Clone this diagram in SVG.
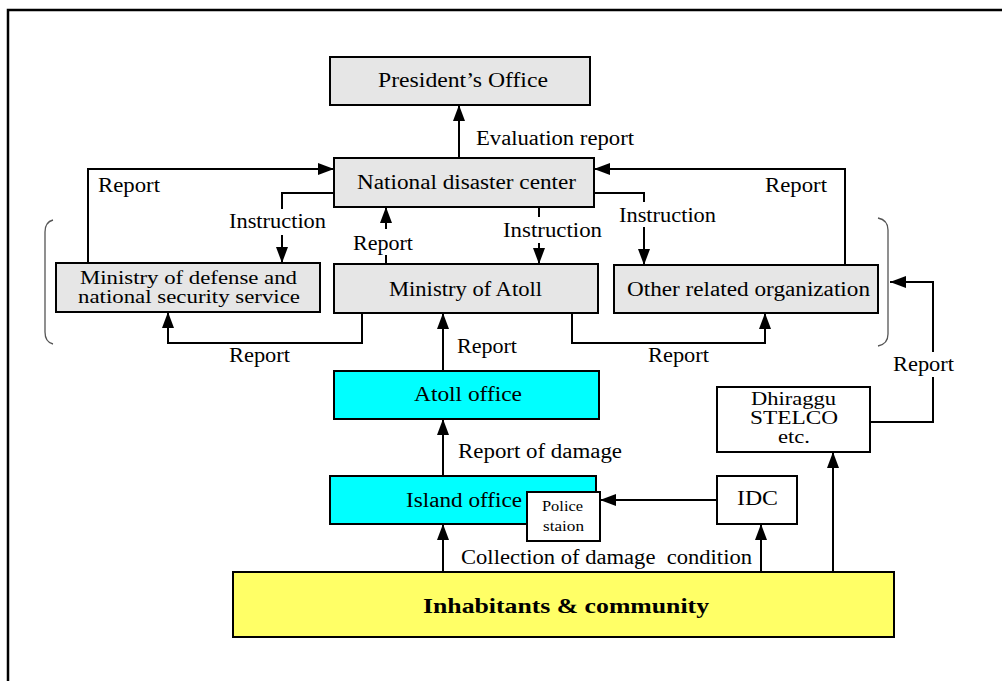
<svg xmlns="http://www.w3.org/2000/svg" width="1002" height="681" viewBox="0 0 1002 681" font-family="Liberation Serif, Times New Roman, serif">
<defs>
<marker id="arr" viewBox="0 0 16 12" refX="16" refY="6" markerWidth="16" markerHeight="12" markerUnits="userSpaceOnUse" orient="auto"><path d="M0,0 L16,6 L0,12 z" fill="#000"/></marker>
</defs>
<style>
.box{stroke:#000;stroke-width:2}
.gray{fill:#e6e6e6}
.cyan{fill:#00ffff}
.white{fill:#fff}
.yellow{fill:#ffff66}
text{font-family:'Liberation Serif','Times New Roman',Times,serif;font-size:20px;fill:#000}
.two{font-size:18px}
.sm{font-size:14px}
.bold{font-weight:bold;font-size:22px}
.ln{fill:none;stroke:#000;stroke-width:2}
.br{fill:none;stroke:#555;stroke-width:1.3}
</style>
<rect width="1002" height="681" fill="#fff"/>
<rect x="8" y="10" width="1010" height="700" fill="none" stroke="#000" stroke-width="2.5"/>

<g id="connectors">
<line class="ln" x1="459" y1="157" x2="459" y2="105" marker-end="url(#arr)"/>
<polyline class="ln" points="88,263 88,169 334,169" marker-end="url(#arr)"/>
<polyline class="ln" points="334,193 282,193 282,209"/>
<line class="ln" x1="282" y1="235" x2="282" y2="263" marker-end="url(#arr)"/>
<line class="ln" x1="386" y1="264" x2="386" y2="255"/>
<line class="ln" x1="386" y1="229" x2="386" y2="207" marker-end="url(#arr)"/>
<line class="ln" x1="539" y1="207" x2="539" y2="217"/>
<line class="ln" x1="539" y1="243" x2="539" y2="264" marker-end="url(#arr)"/>
<polyline class="ln" points="594,193 644,193 644,202"/>
<line class="ln" x1="644" y1="227" x2="644" y2="265" marker-end="url(#arr)"/>
<polyline class="ln" points="845,265 845,169 594,169" marker-end="url(#arr)"/>
<polyline class="ln" points="362,313 362,343 168,343 168,312" marker-end="url(#arr)"/>
<polyline class="ln" points="572,313 572,343 765,343 765,313" marker-end="url(#arr)"/>
<line class="ln" x1="443" y1="371" x2="443" y2="313" marker-end="url(#arr)"/>
<line class="ln" x1="443" y1="476" x2="443" y2="419" marker-end="url(#arr)"/>
<line class="ln" x1="443" y1="572" x2="443" y2="524" marker-end="url(#arr)"/>
<line class="ln" x1="761" y1="572" x2="761" y2="524" marker-end="url(#arr)"/>
<line class="ln" x1="833" y1="572" x2="833" y2="452" marker-end="url(#arr)"/>
<line class="ln" x1="717" y1="500" x2="600" y2="500" marker-end="url(#arr)"/>
<polyline class="ln" points="870,422 933,422 933,377"/>
<polyline class="ln" points="933,352 933,282 890,282" marker-end="url(#arr)"/>
<path class="br" d="M53,220 Q45,222 45,232 L45,332 Q45,342 53,344"/>
<path class="br" d="M878,218 Q888,220 888,230 L888,334 Q888,344 878,346"/>
<text x="476" y="145" textLength="158" lengthAdjust="spacingAndGlyphs">Evaluation report</text>
<text x="98" y="192" textLength="62" lengthAdjust="spacingAndGlyphs">Report</text>
<text x="229" y="228" textLength="97" lengthAdjust="spacingAndGlyphs">Instruction</text>
<text x="353" y="250" textLength="60" lengthAdjust="spacingAndGlyphs">Report</text>
<text x="503" y="237" textLength="99" lengthAdjust="spacingAndGlyphs">Instruction</text>
<text x="619" y="222" textLength="97" lengthAdjust="spacingAndGlyphs">Instruction</text>
<text x="765" y="192" textLength="62" lengthAdjust="spacingAndGlyphs">Report</text>
<text x="229" y="362" textLength="61" lengthAdjust="spacingAndGlyphs">Report</text>
<text x="648" y="362" textLength="61" lengthAdjust="spacingAndGlyphs">Report</text>
<text x="457" y="353" textLength="60" lengthAdjust="spacingAndGlyphs">Report</text>
<text x="458" y="458" textLength="164" lengthAdjust="spacingAndGlyphs">Report of damage</text>
<text x="461" y="564" textLength="291" lengthAdjust="spacingAndGlyphs" xml:space="preserve">Collection of damage  condition</text>
<text x="893" y="371" textLength="61" lengthAdjust="spacingAndGlyphs">Report</text>
</g>

<g id="presidents-office">
<rect class="box gray" x="330" y="57" width="260" height="48"/>
<text x="378" y="87" textLength="170" lengthAdjust="spacingAndGlyphs">President’s Office</text>
</g>
<g id="national-disaster-center">
<rect class="box gray" x="334" y="158" width="260" height="49"/>
<text x="357" y="189" textLength="219" lengthAdjust="spacingAndGlyphs">National disaster center</text>
</g>
<g id="ministry-defense">
<rect class="box gray" x="56" y="263" width="264" height="49"/>
<text class="two" x="80" y="284" textLength="217" lengthAdjust="spacingAndGlyphs">Ministry of defense and</text>
<text class="two" x="78" y="303" textLength="222" lengthAdjust="spacingAndGlyphs">national security service</text>
</g>
<g id="ministry-atoll">
<rect class="box gray" x="334" y="264" width="264" height="49"/>
<text x="389" y="296" textLength="153" lengthAdjust="spacingAndGlyphs">Ministry of Atoll</text>
</g>
<g id="other-related">
<rect class="box gray" x="614" y="265" width="264" height="48"/>
<text x="627" y="296" textLength="243" lengthAdjust="spacingAndGlyphs">Other related organization</text>
</g>
<g id="atoll-office">
<rect class="box cyan" x="334" y="371" width="265" height="48"/>
<text x="414" y="401" textLength="108" lengthAdjust="spacingAndGlyphs">Atoll office</text>
</g>
<g id="island-office">
<rect class="box cyan" x="330" y="476" width="266" height="48"/>
<text x="406" y="507" textLength="116" lengthAdjust="spacingAndGlyphs">Island office</text>
</g>
<g id="police-station">
<rect class="box white" x="527" y="492" width="73" height="49"/>
<text class="sm" x="542" y="511" textLength="41" lengthAdjust="spacingAndGlyphs">Police</text>
<text class="sm" x="543" y="531" textLength="41" lengthAdjust="spacingAndGlyphs">staion</text>
</g>
<g id="idc">
<rect class="box white" x="717" y="476" width="80" height="48"/>
<text x="737" y="505" textLength="41" lengthAdjust="spacingAndGlyphs">IDC</text>
</g>
<g id="dhiraggu">
<rect class="box white" x="717" y="387" width="153" height="65"/>
<text class="two" x="751" y="405" textLength="85" lengthAdjust="spacingAndGlyphs">Dhiraggu</text>
<text class="two" x="750" y="424" textLength="88" lengthAdjust="spacingAndGlyphs">STELCO</text>
<text class="two" x="778" y="443" textLength="32" lengthAdjust="spacingAndGlyphs">etc.</text>
</g>
<g id="inhabitants">
<rect class="box yellow" x="233" y="572" width="661" height="65"/>
<text class="bold" x="423" y="613" textLength="286" lengthAdjust="spacingAndGlyphs">Inhabitants &amp; community</text>
</g>
</svg>
